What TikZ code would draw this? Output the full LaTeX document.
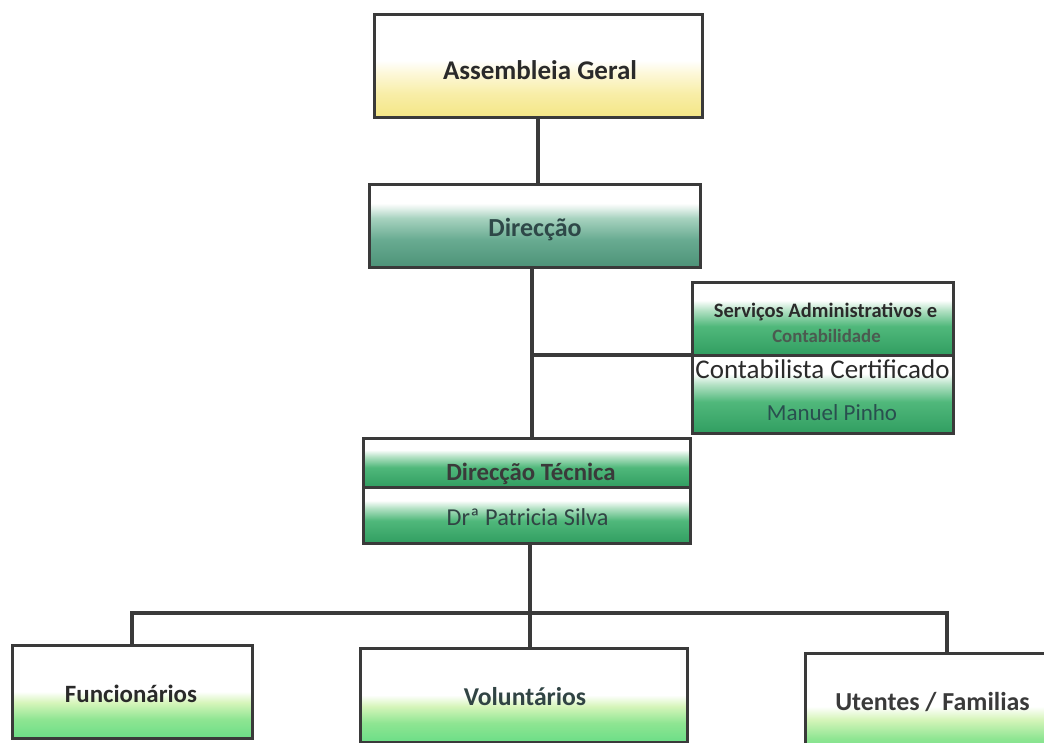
\documentclass[tikz,border=0pt]{standalone}
\usepackage{fontspec}
\setmainfont{Carlito}
\definecolor{lc}{HTML}{3A3A3A}
\definecolor{txt}{HTML}{2A2A2A}
\definecolor{cgr}{HTML}{4B5A50}
\definecolor{agY}{HTML}{F4E684}
\definecolor{agY2}{HTML}{F8EEA8}
\definecolor{agY3}{HTML}{FDF8DA}
\definecolor{tl1}{HTML}{4C9277}
\definecolor{tl2}{HTML}{68AB91}
\definecolor{tl3}{HTML}{A7D2BF}
\definecolor{tl4}{HTML}{E4F1EB}
\definecolor{gr1}{HTML}{319E61}
\definecolor{gr2}{HTML}{50B87B}
\definecolor{gr3}{HTML}{B3E1C4}
\definecolor{lg1}{HTML}{6CDE87}
\definecolor{lg2}{HTML}{8EE592}
\definecolor{lg3}{HTML}{D6F5BA}
\pgfdeclareverticalshading{agsh}{100bp}{color(0bp)=(agY); color(25bp)=(agY); color(37bp)=(agY2); color(47bp)=(agY3); color(53bp)=(white); color(100bp)=(white)}
\pgfdeclareverticalshading{dirsh}{100bp}{color(0bp)=(tl1); color(25bp)=(tl1); color(42bp)=(tl2); color(55bp)=(tl3); color(61bp)=(tl4); color(64bp)=(white); color(100bp)=(white)}
\pgfdeclareverticalshading{grsh}{100bp}{color(0bp)=(gr1); color(25bp)=(gr1); color(45bp)=(gr2); color(56bp)=(gr3); color(63bp)=(white); color(100bp)=(white)}
\pgfdeclareverticalshading{lgsh}{100bp}{color(0bp)=(lg1); color(25bp)=(lg1); color(35bp)=(lg2); color(44bp)=(lg3); color(50bp)=(white); color(100bp)=(white)}
\begin{document}
\begin{tikzpicture}[x=1pt,y=-1pt]
\tikzset{
  bx/.style={draw=lc, line width=3pt, inner sep=0pt, outer sep=0pt, shade},
  conn/.style={draw=lc, line width=3.5pt},
  lbl/.style={anchor=base, inner sep=0pt, text=txt},
}
\clip (0,0) rectangle (1044,743);
\fill[white] (0,0) rectangle (1044,743);
% boxes
\node[bx, shading=agsh, minimum width=328pt, minimum height=103pt] (AG) at (538,66.5) {};
\node[bx, shading=dirsh, minimum width=331pt, minimum height=83pt] (Dir) at (534.5,226.5) {};
\node[bx, shading=grsh, minimum width=261pt, minimum height=72pt] (SvA) at (822.5,319) {};
\node[bx, shading=grsh, minimum width=261pt, minimum height=78pt] (SvB) at (822.5,394) {};
\node[bx, shading=grsh, minimum width=327pt, minimum height=49pt] (DTa) at (526.5,462.5) {};
\node[bx, shading=grsh, minimum width=327pt, minimum height=56pt] (DTb) at (526.5,515) {};
\node[bx, shading=lgsh, minimum width=240pt, minimum height=93pt] (Fun) at (132,691.5) {};
\node[bx, shading=lgsh, minimum width=327pt, minimum height=94pt] (Vol) at (523.5,695) {};
\node[bx, shading=lgsh, minimum width=255pt, minimum height=107pt] (Ute) at (932.5,706.5) {};
% texts
\node[lbl, font=\fontsize{27}{30}\selectfont\bfseries] (tAG) at (540,80) {Assembleia Geral};
\node[lbl, text=lc!80!teal, font=\fontsize{26}{30}\selectfont\bfseries] (tDir) at (535,237) {Direcção};
\node[lbl, text=txt, font=\fontsize{20.5}{24}\selectfont\bfseries] (tSv1) at (825.5,317) {Serviços Administrativos e};
\node[lbl, text=cgr, font=\fontsize{18.8}{22}\selectfont\bfseries] (tSv2) at (826.5,342) {Contabilidade};
\node[lbl, text=txt, font=\fontsize{27}{30}\selectfont] (tSv3) at (822.5,378) {Contabilista Certificado};
\node[lbl, text=lc!70!teal, font=\fontsize{23}{26}\selectfont] (tSv4) at (832,420) {Manuel Pinho};
\node[lbl, text=lc, font=\fontsize{24.8}{28}\selectfont\bfseries] (tDT1) at (531,480) {Direcção Técnica};
\node[lbl, text=lc!85!teal, font=\fontsize{24.3}{28}\selectfont] (tDT2) at (527.5,525) {Drª Patricia Silva};
\node[lbl, font=\fontsize{24.9}{28}\selectfont\bfseries] (tFun) at (131,702) {Funcionários};
\node[lbl, text=lc!85!teal, font=\fontsize{25.7}{28}\selectfont\bfseries] (tVol) at (525,705) {Voluntários};
\node[lbl, text=lc, font=\fontsize{25.9}{28}\selectfont\bfseries] (tUte) at (932.5,710) {Utentes / Familias};
% connectors
\coordinate (bus) at (530,613);
\draw[conn] (AG.south) -- (AG.south |- Dir.north);
\draw[conn] ([xshift=-2.5pt]Dir.south) -- ([xshift=-2.5pt]Dir.south |- DTa.north);
\draw[conn] ([xshift=-2.5pt]Dir.south |- SvB.north west) -- (SvB.north west);
\draw[conn] ([xshift=3.5pt]DTb.south) -- (bus);
\draw[conn] (Fun.north) -- (Fun.north |- bus) -- ([xshift=14.5pt]Ute.north |- bus) -- ([xshift=14.5pt]Ute.north);
\draw[conn] (bus) -- (bus |- Vol.north);
\end{tikzpicture}
\end{document}
